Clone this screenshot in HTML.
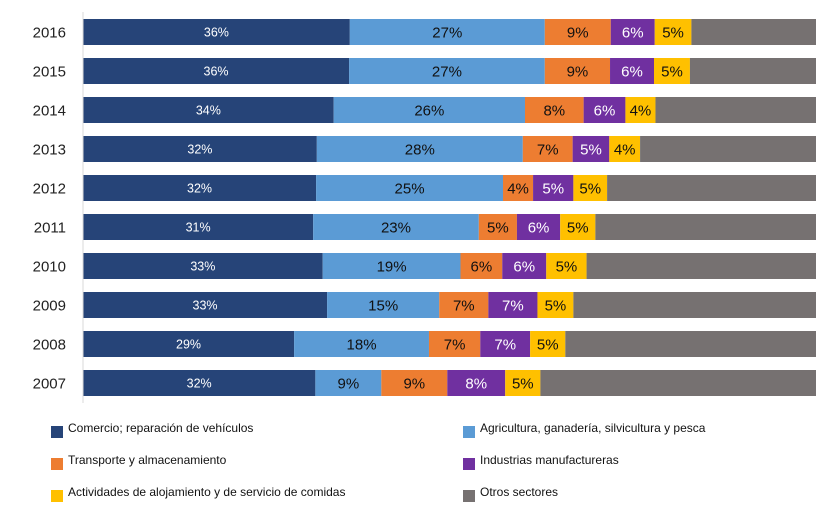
<!DOCTYPE html>
<html><head><meta charset="utf-8"><style>
body{margin:0;background:#fff;width:823px;height:509px;overflow:hidden;font-family:"Liberation Sans",sans-serif}
</style></head><body>
<svg width="823" height="509" id="c"></svg>
<script>
const years=["2016","2015","2014","2013","2012","2011","2010","2009","2008","2007"];
const comercio=[36.4,36.3,34.2,31.9,31.8,31.4,32.7,33.3,28.8,31.7];
const agricultura=[26.6,26.7,26.1,28.1,25.5,22.6,18.8,15.3,18.4,9.0];
const transporte=[9.0,8.9,8.0,6.8,4.1,5.2,5.7,6.7,7.0,9.0];
const industrias=[6.0,6.0,5.7,5.0,5.5,5.9,6.0,6.7,6.8,7.9];
const alojamiento=[5.0,4.9,4.1,4.2,4.6,4.8,5.5,4.9,4.8,4.8];
const comercioLbl=["36%","36%","34%","32%","32%","31%","33%","33%","29%","32%"];
const agriLbl=["27%","27%","26%","28%","25%","23%","19%","15%","18%","9%"];
const transLbl=["9%","9%","8%","7%","4%","5%","6%","7%","7%","9%"];
const indLbl=["6%","6%","6%","5%","5%","6%","6%","7%","7%","8%"];
const alojLbl=["5%","5%","4%","4%","5%","5%","5%","5%","5%","5%"];
const svg=document.getElementById('c');const NS="http://www.w3.org/2000/svg";
const x0=83,x1=816;const xs=v=>v/100*(x1-x0);
const ys=i=>19+i*39;const bh=26;
function el(t,a,p){const e=document.createElementNS(NS,t);for(const k in a)e.setAttribute(k,a[k]);(p||svg).appendChild(e);return e;}
const series=[[comercio,comercioLbl,"#264478","#fff",12.5],[agricultura,agriLbl,"#5b9bd5","#111",15],[transporte,transLbl,"#ed7d31","#111",15],[industrias,indLbl,"#7030a0","#fff",15],[alojamiento,alojLbl,"#ffc000","#111",15]];
const keys=["comercio","agricultura","transporte","industrias","alojamiento"];
years.forEach((y,i)=>{
 const t=el('text',{x:66,y:ys(i)+bh/2+5.5,'text-anchor':'end','font-size':15,fill:'#222'});t.textContent=y;
 
 
 let cx=x0;
 series.forEach((s,j)=>{
  const w=xs(s[0][i]);
  const r=el('rect',{x:cx,y:ys(i),width:w,height:bh,fill:s[2]});
  
  
  const l=el('text',{x:cx+w/2,y:ys(i)+bh/2+(s[4]>13?5.5:4.5),'text-anchor':'middle','font-size':s[4],fill:s[3]});l.textContent=s[1][i];
  
  
  cx+=w;
 });
 const r=el('rect',{x:cx,y:ys(i),width:x1-cx,height:bh,fill:'#767171'});
 
 
});
const ax=el('line',{x1:x0,y1:12,x2:x0,y2:403,stroke:'#d9d9d9'});


const legend=[["Comercio;  reparación de vehículos","#264478",51,425],["Agricultura, ganadería,  silvicultura  y pesca","#5b9bd5",463,425],["Transporte y almacenamiento","#ed7d31",51,457],["Industrias manufactureras","#7030a0",463,457],["Actividades  de alojamiento  y de servicio de comidas","#ffc000",51,489],["Otros sectores","#767171",463,489]];
legend.forEach(l=>{
 const g=el('g',{});
 
 
 el('rect',{x:l[2],y:l[3]+1,width:12,height:12,fill:l[1]},g);
 const t=el('text',{x:l[2]+17,y:l[3]+7,'font-size':12,fill:'#111','xml:space':'preserve'},g);t.textContent=l[0];
});
</script>
</body></html>
